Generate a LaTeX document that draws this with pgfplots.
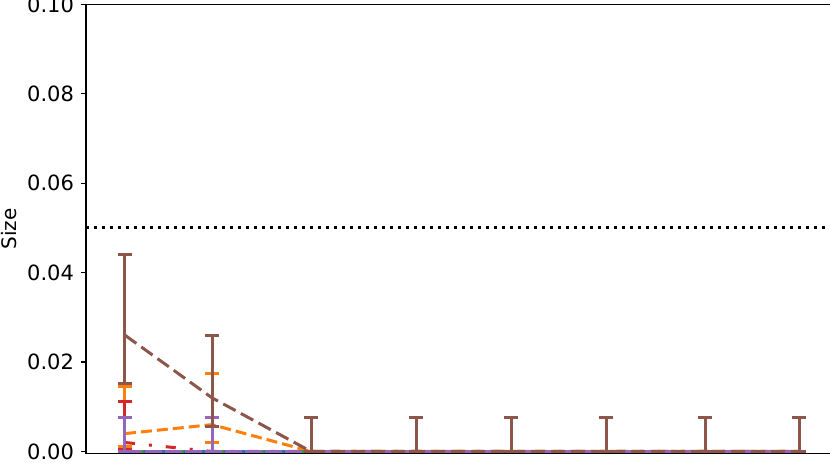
\documentclass[border=0pt]{standalone}
\usepackage{pgfplots}
\pgfplotsset{compat=1.18}
\usepackage{fontspec}
\setmainfont{DejaVu Sans}
\definecolor{tblue}{HTML}{1F77B4}
\definecolor{torange}{HTML}{FF7F0E}
\definecolor{tgreen}{HTML}{2CA02C}
\definecolor{tred}{HTML}{D62728}
\definecolor{tpurple}{HTML}{9467BD}
\definecolor{tbrown}{HTML}{8C564B}
\begin{document}
\begin{tikzpicture}
\path[use as bounding box] (-43pt,-5.15pt) rectangle (372pt,226.85pt);
\begin{axis}[
  at={(0,0)}, anchor=south west,
  scale only axis, width=376pt, height=224.6pt,
  xmin=86, xmax=838, ymin=-0.0005, ymax=0.1,
  axis x line*=box, axis y line*=left,
  xtick=\empty,
  ytick={0,0.02,0.04,0.06,0.08,0.1},
  scaled y ticks=false,
  yticklabel style={/pgf/number format/.cd, fixed, fixed zerofill, precision=2, assume math mode=true},
  tick label style={font=\fontsize{10.5}{12.6}\selectfont},
  label style={font=\fontsize{10.5}{12.6}\selectfont},
  ylabel={Size},
  every axis y label/.style={at={(axis description cs:-0.102,0.5)}, rotate=90, anchor=center},
  tick align=outside, major tick length=2.5pt,
  ytick style={black, line width=0.6pt},
  axis line style={line width=0.6pt, -},
  every axis plot/.append style={line width=1.5pt},
  error bars/y dir=both, error bars/y explicit,
  error bars/error bar style={solid, line width=1.5pt},
  error bars/error mark options={rotate=90, mark size=3.5pt, line width=1.5pt, solid},
]
% blue
\addplot[tblue, solid, mark=none] coordinates {
(125,0) += (0,0.0076246) -= (0,0)
(212,0) += (0,0.0076246) -= (0,0)
(311,0) += (0,0.0076246) -= (0,0)
(416,0) += (0,0.0076246) -= (0,0)
(511,0) += (0,0.0076246) -= (0,0)
(606,0) += (0,0.0076246) -= (0,0)
(705,0) += (0,0.0076246) -= (0,0)
(799,0) += (0,0.0076246) -= (0,0)
};
% orange
\addplot[torange, dash pattern=on 5.5pt off 2.5pt, mark=none] coordinates {
(125,0.004) += (0,0.010466) -= (0,0.0029025)
(212,0.006) += (0,0.011490) -= (0,0.003957)
(311,0) += (0,0.0076246) -= (0,0)
(416,0) += (0,0.0076246) -= (0,0)
(511,0) += (0,0.0076246) -= (0,0)
(606,0) += (0,0.0076246) -= (0,0)
(705,0) += (0,0.0076246) -= (0,0)
(799,0) += (0,0.0076246) -= (0,0)
};
% green
\addplot[tgreen, dash pattern=on 1.5pt off 2.5pt, mark=none] coordinates {
(125,0) += (0,0.0076246) -= (0,0)
(212,0) += (0,0.0076246) -= (0,0)
(311,0) += (0,0.0076246) -= (0,0)
(416,0) += (0,0.0076246) -= (0,0)
(511,0) += (0,0.0076246) -= (0,0)
(606,0) += (0,0.0076246) -= (0,0)
(705,0) += (0,0.0076246) -= (0,0)
(799,0) += (0,0.0076246) -= (0,0)
};
% red
\addplot[tred, dash pattern=on 5pt off 7pt on 1.5pt off 7pt, mark=none] coordinates {
(125,0.002) += (0,0.009241) -= (0,0.001647)
(212,0) += (0,0.0076246) -= (0,0)
(311,0) += (0,0.0076246) -= (0,0)
(416,0) += (0,0.0076246) -= (0,0)
(511,0) += (0,0.0076246) -= (0,0)
(606,0) += (0,0.0076246) -= (0,0)
(705,0) += (0,0.0076246) -= (0,0)
(799,0) += (0,0.0076246) -= (0,0)
};
% purple
\addplot[tpurple, dash pattern=on 8.5pt off 1.5pt, mark=none] coordinates {
(125,0) += (0,0.0076246) -= (0,0)
(212,0) += (0,0.0076246) -= (0,0)
(311,0) += (0,0.0076246) -= (0,0)
(416,0) += (0,0.0076246) -= (0,0)
(511,0) += (0,0.0076246) -= (0,0)
(606,0) += (0,0.0076246) -= (0,0)
(705,0) += (0,0.0076246) -= (0,0)
(799,0) += (0,0.0076246) -= (0,0)
};
% brown
\addplot[tbrown, dash pattern=on 7pt off 3pt, mark=none] coordinates {
(125,0.026) += (0,0.017972) -= (0,0.010744)
(212,0.012) += (0,0.013931) -= (0,0.006489)
(311,0) += (0,0.0076246) -= (0,0)
(416,0) += (0,0.0076246) -= (0,0)
(511,0) += (0,0.0076246) -= (0,0)
(606,0) += (0,0.0076246) -= (0,0)
(705,0) += (0,0.0076246) -= (0,0)
(799,0) += (0,0.0076246) -= (0,0)
};
% threshold
\addplot[black, line width=1.5pt, dash pattern=on 1.5pt off 2.5pt, mark=none, forget plot] coordinates {(86,0.05) (838,0.05)};
\end{axis}
\end{tikzpicture}
\end{document}
